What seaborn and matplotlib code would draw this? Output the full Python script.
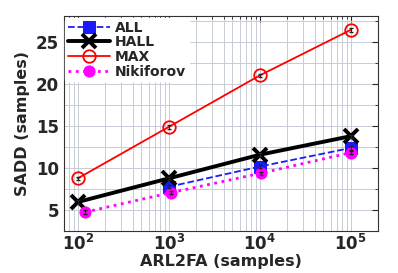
# SADD vs ARL2FA comparison chart
import numpy as np
import pandas as pd
import matplotlib
matplotlib.use('Agg')
import matplotlib.pyplot as plt
import seaborn as sns
from matplotlib.ticker import LogLocator, MultipleLocator, NullFormatter

# Data
arl_all = [1000, 10000, 100000]
sadd_all = [7.8, 10.2, 12.4]

arl_hall = [100, 1000, 10000, 100000]
sadd_hall = [6.0, 8.8, 11.6, 13.8]

arl_max = [100, 1000, 10000, 100000]
sadd_max = [8.8, 14.9, 21.0, 26.4]

arl_nik = [120, 1050, 10200, 100000]
sadd_nik = [4.8, 7.1, 9.4, 11.85]

err = 0.2

sns.set_style('white')
plt.rcParams['font.family'] = ['DejaVu Sans']
plt.rcParams['font.weight'] = 'bold'

fig, ax = plt.subplots(figsize=(3.98, 2.73), dpi=100)

# Series
sns.lineplot(x=arl_all, y=sadd_all, ax=ax, color='#1a1aff', ls='--', lw=1.3,
             marker='s', ms=8, mec='#1a1aff', label='ALL')
sns.lineplot(x=arl_hall, y=sadd_hall, ax=ax, color='black', lw=2.8,
             marker='x', ms=10, mec='black', mew=2.8, label='HALL')
sns.lineplot(x=arl_max, y=sadd_max, ax=ax, color='red', lw=1.3,
             marker='o', ms=9, mfc='none', mec='red', mew=1.3, label='MAX')
sns.lineplot(x=arl_nik, y=sadd_nik, ax=ax, color='magenta', ls=':', lw=2,
             marker='o', ms=8, mec='magenta', label='Nikiforov')

# small error bars on each point
for xs, ys in [(arl_all, sadd_all), (arl_hall, sadd_hall), (arl_max, sadd_max), (arl_nik, sadd_nik)]:
    ax.errorbar(xs, ys, yerr=err, fmt='none', ecolor='#222222', elinewidth=0.8,
                capsize=1.2, zorder=5)

ax.set_xscale('log')
ax.set_xlim(70, 2e5)
ax.set_ylim(2.6, 28)
ax.xaxis.set_major_locator(LogLocator(base=10, numticks=10))
ax.xaxis.set_minor_locator(LogLocator(base=10, subs=np.arange(2, 10), numticks=10))
ax.xaxis.set_minor_formatter(NullFormatter())
ax.yaxis.set_major_locator(MultipleLocator(5))
ax.yaxis.set_minor_locator(MultipleLocator(2.5))

ax.grid(True, which='both', color='#c8ccd6', lw=0.7)
ax.set_axisbelow(True)
ax.tick_params(which='both', direction='in', top=True, right=True, labelsize=12)
ax.tick_params(axis='x', which='major', pad=2)
ax.tick_params(which='major', length=4)
ax.tick_params(which='minor', length=2)
for s in ax.spines.values():
    s.set_color('#333333')
    s.set_linewidth(0.8)

ax.set_xlabel('ARL2FA (samples)', fontsize=11.5, fontweight='bold', labelpad=0)
ax.set_ylabel('SADD (samples)', fontsize=11.5, fontweight='bold', labelpad=4)

leg = ax.legend(loc='upper left', frameon=True, fontsize=10, handlelength=3.0,
                borderaxespad=0.1, borderpad=0.2, labelspacing=0.05, handletextpad=0.4)
leg.get_frame().set_edgecolor('white')
leg.get_frame().set_alpha(1)
for t in leg.get_texts():
    t.set_fontweight('bold')

fig.subplots_adjust(left=0.16, right=0.95, bottom=0.155, top=0.94)
fig.savefig('out.png', dpi=100)
